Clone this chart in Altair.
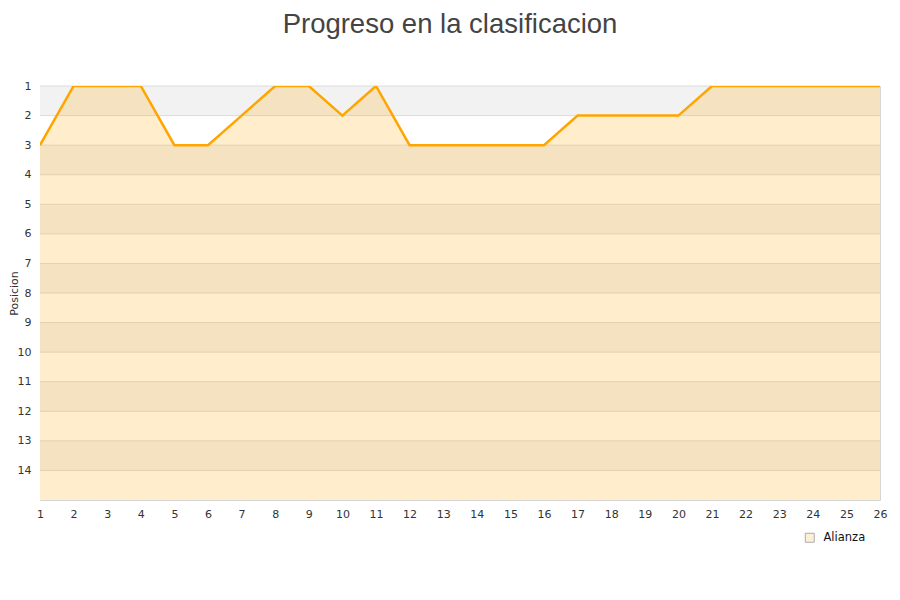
import altair as alt
import pandas as pd

titulo = "Progreso en la clasificacion"
equipo = "Alianza"
jornadas = list(range(1, 27))
posiciones = [3, 1, 1, 1, 3, 3, 2, 1, 1, 2, 1, 3, 3, 3, 3, 3, 2, 2, 2, 2, 1, 1, 1, 1, 1, 1]
y_ticks = list(range(1, 15))
band_starts = list(range(1, 15))
grid_lines = list(range(1, 15))

df = pd.DataFrame({"jornada": jornadas, "posicion": posiciones})
bands = pd.DataFrame({"y": band_starts, "y2": [b + 1 for b in band_starts]})
grid = pd.DataFrame({"g": grid_lines})
legend_df = pd.DataFrame({"equipo": [equipo]})

W, H = 840, 414
FONT = "DejaVu Sans"

xscale = alt.Scale(domain=[1, 26], nice=False, zero=False)
yscale = alt.Scale(domain=[1, 15], reverse=True, nice=False, zero=False)

yaxis = alt.Axis(values=y_ticks, grid=False, ticks=False, domain=False, labelPadding=9,
                 labelFont=FONT, labelFontSize=11, labelColor="#333",
                 title="Posicion", titleFont=FONT, titleFontSize=11, titleFontWeight="normal",
                 titleColor="#333", titleX=-26, titleY=H / 2, titleAngle=270,
                 titleAlign="center", titleBaseline="middle")
xaxis = alt.Axis(values=jornadas, grid=False, ticks=False, domain=False, labelPadding=8,
                 labelFont=FONT, labelFontSize=11, labelColor="#333", title=None, labelFlush=False)

band_layer = alt.Chart(bands).mark_rect().encode(
    x=alt.value(0), x2=alt.value(W),
    y=alt.Y("y:Q", scale=yscale, axis=yaxis),
    y2="y2:Q",
    fill=alt.condition("datum.y % 2 == 1", alt.value("#f2f2f2"), alt.value("#ffffff")),
)

grid_layer = alt.Chart(grid).mark_rule(color="#dcdcdc", strokeWidth=1).encode(
    y=alt.Y("g:Q", scale=yscale, axis=yaxis),
)

area_layer = alt.Chart(df).mark_area(color="#ffa500", opacity=0.2, clip=True, interpolate="linear").encode(
    x=alt.X("jornada:Q", scale=xscale, axis=xaxis),
    y=alt.Y("posicion:Q", scale=yscale, axis=yaxis),
    y2=alt.datum(15),
)

line_layer = alt.Chart(df).mark_line(color="#ffa500", strokeWidth=2.5, clip=True).encode(
    x=alt.X("jornada:Q", scale=xscale, axis=xaxis),
    y=alt.Y("posicion:Q", scale=yscale, axis=yaxis),
)

legend_layer = alt.Chart(legend_df).mark_square(clip=True, filled=True).encode(
    x=alt.value(-200), y=alt.value(-200),
    color=alt.Color("equipo:N", scale=alt.Scale(range=["#fdebcb"]),
                    legend=alt.Legend(title=None, orient="none", legendX=764, legendY=446,
                                      symbolType="square", symbolSize=80,
                                      symbolStrokeColor="#888", symbolStrokeWidth=1,
                                      labelFont=FONT, labelFontSize=11.5, labelColor="#111",
                                      labelOffset=8, padding=0)),
)

chart = alt.layer(band_layer, grid_layer, area_layer, line_layer, legend_layer).properties(
    width=W, height=H,
    autosize=alt.AutoSizeParams(type="none"),
    padding={"left": 32, "top": 78, "right": 12, "bottom": 84},
    title=alt.TitleParams(titulo, font="Liberation Sans", fontSize=27.5, fontWeight="normal",
                          color="#444", anchor="middle", dx=-10, offset=42),
).configure_view(stroke="#d6d6d6", strokeWidth=1)

chart.save("out.html", embed_options={"renderer": "svg", "actions": False})
